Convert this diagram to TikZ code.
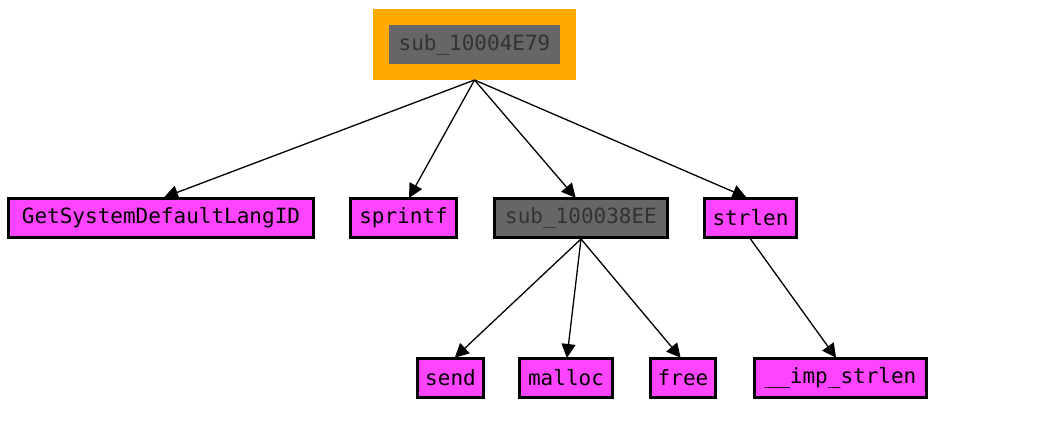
\documentclass[tikz,border=0pt]{standalone}
\usepackage{fontspec}
\setmonofont{DejaVu Sans Mono}
\usepackage{tikz}
\usetikzlibrary{arrows.meta,positioning}
\definecolor{fnpink}{HTML}{FF44FF}
\definecolor{subgray}{HTML}{666666}
\definecolor{subtext}{HTML}{333333}
\definecolor{rootorange}{HTML}{FFAA00}
\tikzset{
  fn/.style={draw=black, line width=3pt, fill=#1, inner sep=0pt,
             minimum height=39pt, font=\ttfamily\fontsize{21}{21}\selectfont},
  call/.style={-{Triangle[length=14pt,width=14pt]}, line width=1.3pt, shorten >=-1pt}
}
\begin{document}
\begin{tikzpicture}[x=1pt, y=-1pt]
  \useasboundingbox (0,0) rectangle (1046,429);
  % root function
  \node[draw=rootorange, line width=16pt, fill=subgray, text=subtext, inner sep=0pt,
        minimum width=187pt, minimum height=55pt,
        font=\ttfamily\fontsize{21}{21}\selectfont] (root) at (474.5,44.5) {sub\_10004E79};
  % first level
  \node[fn=fnpink, minimum width=305pt] (langid) at (161,218) {GetSystemDefaultLangID};
  \node[fn=fnpink, minimum width=106pt] (sprintf) at (403.5,218) {sprintf};
  \node[fn=subgray, text=subtext, minimum width=173pt] (sub38) at (581,218) {sub\_100038EE};
  \node[fn=fnpink, minimum width=92pt] (strlen) at (750.5,218) {strlen};
  % second level
  \node[fn=fnpink, minimum width=66pt] (send) at (450.5,378) {send};
  \node[fn=fnpink, minimum width=93pt] (malloc) at (566,378) {malloc};
  \node[fn=fnpink, minimum width=65pt] (free) at (683,378) {free};
  \node[fn=fnpink, minimum width=172pt] (impstrlen) at (840.5,378) {\_\_imp\_strlen};
  % calls
  \draw[call] (root.south) -- ([xshift=4pt]langid.north);
  \draw[call] (root.south) -- ([xshift=6pt]sprintf.north);
  \draw[call] (root.south) -- ([xshift=-6pt]sub38.north);
  \draw[call] (root.south) -- ([xshift=-5pt]strlen.north);
  \draw[call] (sub38.south) -- ([xshift=5pt]send.north);
  \draw[call] (sub38.south) -- ([xshift=1pt]malloc.north);
  \draw[call] (sub38.south) -- ([xshift=-3pt]free.north);
  \draw[call] (strlen.south) -- ([xshift=-5pt]impstrlen.north);
\end{tikzpicture}
\end{document}
